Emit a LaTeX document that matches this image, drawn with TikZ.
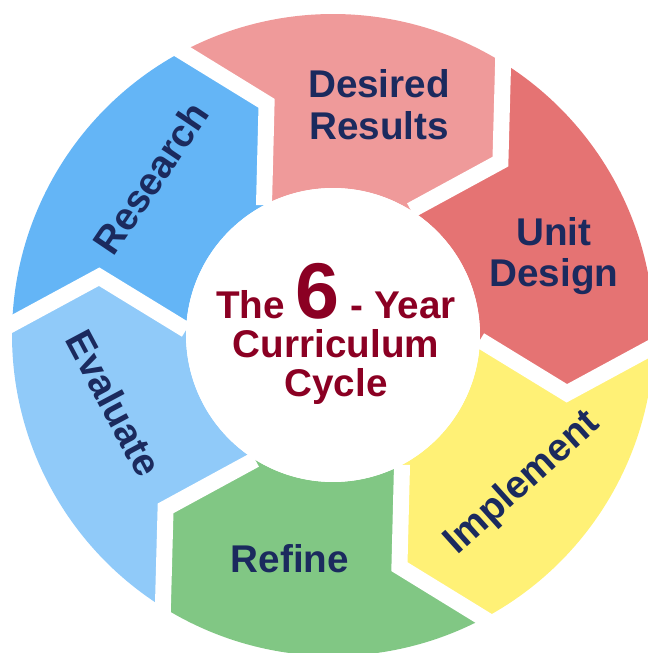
\documentclass[tikz,border=0pt]{standalone}
\usepackage{fontspec}
\setmainfont{Liberation Sans}
\usepackage{tikz}
\usetikzlibrary{calc}
\definecolor{navy}{RGB}{27,42,94}
\definecolor{wine}{RGB}{139,0,35}
\definecolor{rosepart}{RGB}{239,154,154}
\definecolor{redpart}{RGB}{229,115,115}
\definecolor{yellowpart}{RGB}{255,241,118}
\definecolor{greenpart}{RGB}{129,199,132}
\definecolor{palepart}{RGB}{144,202,249}
\definecolor{bluepart}{RGB}{100,181,246}

\begin{document}
\begin{tikzpicture}[x=0.02cm,y=0.02cm,
    stage/.style={text=navy,align=center,font=\bfseries\fontsize{22}{23.6}\selectfont},
    gap/.style={white,line width=0.32cm,line join=miter}]
  \useasboundingbox (0,0) rectangle (647,653);
  \begin{scope}[shift={(333,318)}]
    \foreach \a/\col in {106/rosepart,46/redpart,-14/yellowpart,-74/greenpart,-134/palepart,166/bluepart}
      \fill[\col] (\a+12:321) arc[start angle=\a+12,end angle=\a-48,radius=321]
        -- (\a-60:241) -- (\a-48:147) arc[start angle=\a-48,end angle=\a+12,radius=147]
        -- (\a:241) -- cycle;
    \foreach \a in {106,46,...,-194}
      \draw[gap] ($(\a:241)!1.3!(\a+12:321)$) -- (\a:241) -- (\a+12:147);
    \node[circle,fill=white,minimum size=5.88cm] (hub) at (0,0) {};
  \end{scope}
  \node[text=wine,align=center,font=\bfseries\fontsize{22}{22.4}\selectfont] (title) at (336,319)
    {The {\fontsize{45}{45}\selectfont 6} - Year\\Curriculum\\Cycle};
  \node[stage] (desired) at (379,548.5) {Desired\\Results};
  \node[stage] (unit) at (554,397) {Unit\\Design};
  \node[stage,rotate=42] (implement) at (523,169.5) {Implement};
  \node[stage] (refine) at (290,94) {Refine};
  \node[stage,rotate=-62] (evaluate) at (114,250) {Evaluate};
  \node[stage,rotate=56] (research) at (151,475) {Research};
\end{tikzpicture}
\end{document}
